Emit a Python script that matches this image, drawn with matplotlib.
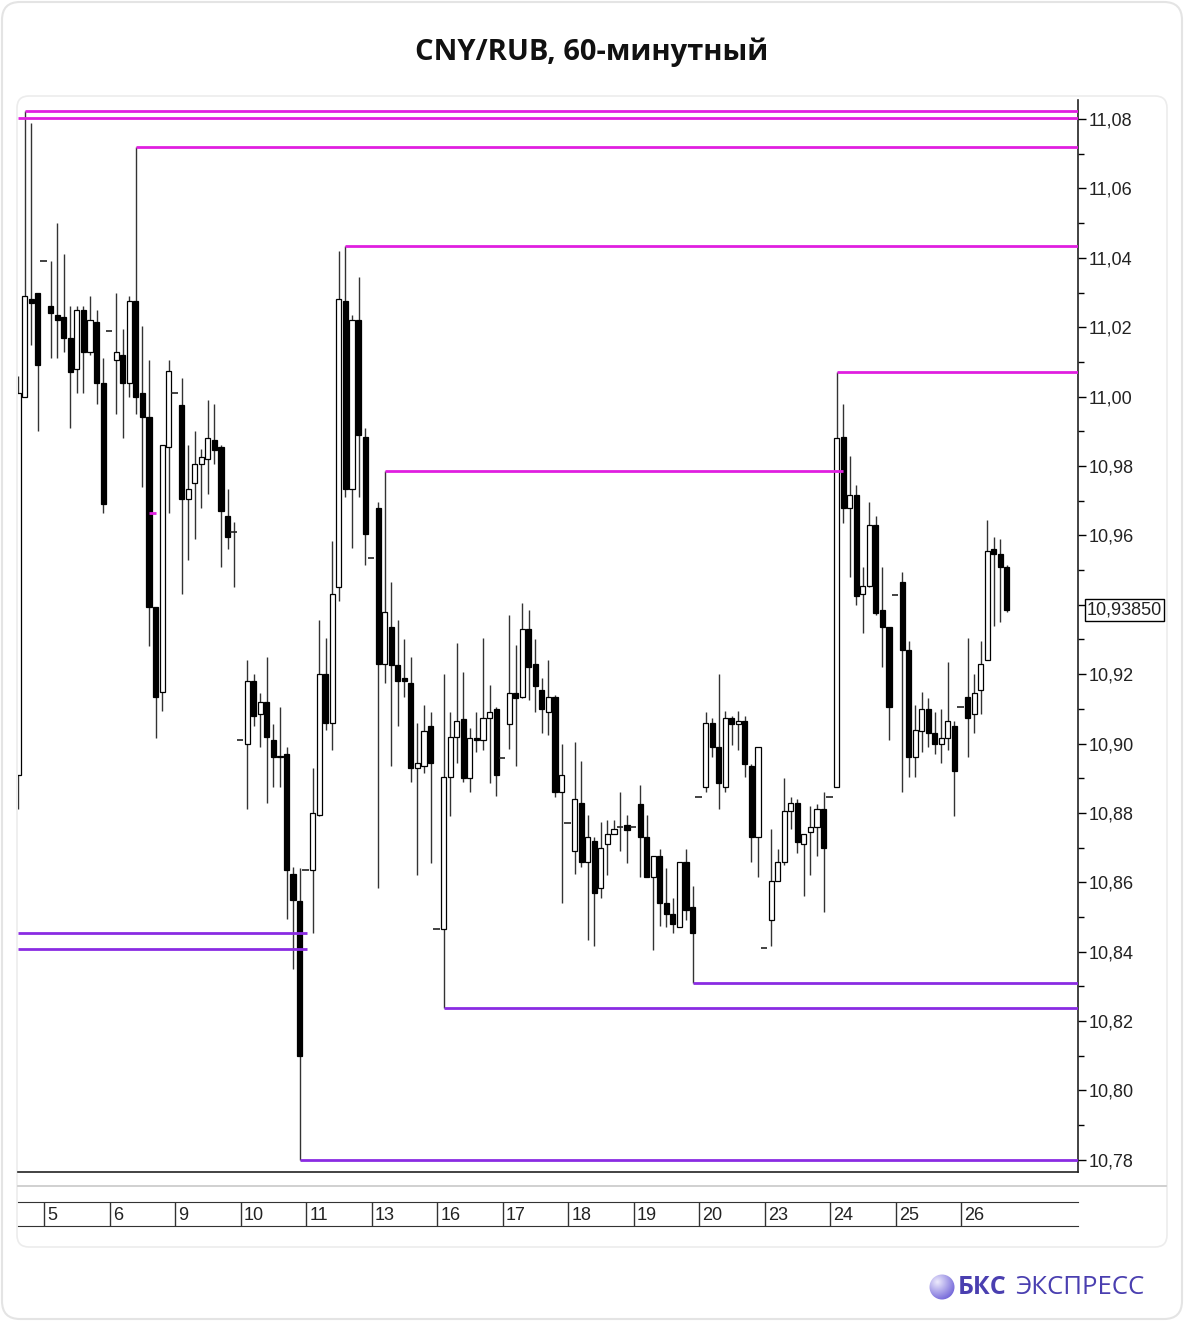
import numpy as np
import matplotlib.pyplot as plt
from matplotlib.patches import Rectangle, FancyBboxPatch, Circle
from matplotlib.ticker import MultipleLocator, FuncFormatter
import matplotlib.transforms as mtransforms

plt.rcParams['font.family'] = ['Liberation Sans', 'DejaVu Sans']

# hourly candles CNY/RUB, end of 4 Nov .. 26 Nov
opens = [
    10.891, 11.000, 11.028, 11.030, 11.039, 11.026, 11.0235, 11.023, 11.017, 11.008,
    11.025, 11.013, 11.0215, 11.004, 11.019, 11.0105, 11.012, 11.004, 11.0275, 11.001,
    10.994, 10.9395, 10.915, 10.9855, 11.001, 10.9975, 10.9705, 10.975, 10.9805, 10.982,
    10.9875, 10.9855, 10.9655, 10.961, 10.901, 10.900, 10.918, 10.9085, 10.912, 10.901,
    10.8965, 10.897, 10.8625, 10.8545, 10.8635, 10.8635, 10.8795, 10.920, 10.906, 10.945,
    11.0275, 10.9735, 11.022, 10.9885, 10.9535, 10.968, 10.923, 10.9335, 10.9225, 10.919,
    10.9175, 10.893, 10.8935, 10.905, 10.8465, 10.8465, 10.8905, 10.902, 10.907, 10.890,
    10.9015, 10.901, 10.9075, 10.910, 10.8958, 10.9055, 10.9145, 10.9135, 10.933, 10.923,
    10.9155, 10.909, 10.9135, 10.886, 10.877, 10.869, 10.883, 10.866, 10.872, 10.8585,
    10.871, 10.874, 10.876, 10.8765, 10.876, 10.8825, 10.873, 10.8615, 10.8675, 10.854,
    10.851, 10.847, 10.866, 10.853, 10.8845, 10.8875, 10.906, 10.899, 10.8875, 10.9075,
    10.9055, 10.9065, 10.8935, 10.873, 10.841, 10.849, 10.8605, 10.866, 10.8805, 10.883,
    10.871, 10.8745, 10.876, 10.881, 10.8845, 10.8875, 10.9885, 10.968, 10.9715, 10.943,
    10.9455, 10.963, 10.9385, 10.9335, 10.9428, 10.9465, 10.927, 10.896, 10.9035, 10.910,
    10.903, 10.900, 10.9015, 10.905, 10.9106, 10.9135, 10.9085, 10.9155, 10.924, 10.956,
    10.9545, 10.951]
highs = [
    11.006, 11.0823, 11.079, 11.030, 11.039, 11.039, 11.050, 11.041, 11.026, 11.026,
    11.026, 11.029, 11.025, 11.011, 11.019, 11.030, 11.0195, 11.029, 11.0719, 11.0205,
    11.0105, 10.9395, 10.986, 11.0105, 11.001, 11.0055, 10.986, 10.990, 10.985, 10.999,
    10.998, 10.986, 10.9735, 10.964, 10.901, 10.924, 10.920, 10.9145, 10.925, 10.9055,
    10.9105, 10.899, 10.8645, 10.864, 10.8635, 10.893, 10.9355, 10.9305, 10.9585, 11.042,
    11.0434, 11.0235, 11.0345, 10.991, 10.9535, 10.9695, 10.9786, 10.9465, 10.9355, 10.930,
    10.925, 10.906, 10.911, 10.909, 10.8465, 10.920, 10.909, 10.929, 10.9205, 10.9045,
    10.909, 10.9305, 10.917, 10.9105, 10.8958, 10.937, 10.9285, 10.9405, 10.9385, 10.930,
    10.919, 10.924, 10.914, 10.900, 10.877, 10.9005, 10.895, 10.8795, 10.873, 10.8775,
    10.878, 10.878, 10.886, 10.8795, 10.876, 10.888, 10.8795, 10.8675, 10.8695, 10.864,
    10.8555, 10.866, 10.8695, 10.859, 10.8845, 10.909, 10.9075, 10.920, 10.9095, 10.908,
    10.9095, 10.908, 10.894, 10.899, 10.841, 10.8755, 10.8695, 10.890, 10.8845, 10.884,
    10.874, 10.882, 10.8825, 10.886, 10.8845, 11.0071, 10.998, 10.983, 10.9745, 10.951,
    10.9695, 10.9655, 10.951, 10.9335, 10.9428, 10.9495, 10.9295, 10.911, 10.915, 10.913,
    10.909, 10.910, 10.9235, 10.9065, 10.9106, 10.9305, 10.920, 10.9295, 10.9645, 10.9595,
    10.959, 10.9515]
lows = [
    10.881, 11.000, 11.015, 10.990, 11.039, 11.011, 11.011, 11.013, 10.991, 11.001,
    11.001, 11.012, 10.998, 10.9665, 11.019, 10.995, 10.988, 11.000, 10.995, 10.974,
    10.928, 10.9015, 10.9095, 10.9665, 11.001, 10.943, 10.953, 10.959, 10.968, 10.972,
    10.9805, 10.951, 10.956, 10.945, 10.901, 10.881, 10.905, 10.899, 10.883, 10.8875,
    10.8875, 10.8495, 10.835, 10.780, 10.8635, 10.8455, 10.879, 10.904, 10.898, 10.941,
    10.971, 10.9565, 10.971, 10.9515, 10.9535, 10.8585, 10.9175, 10.8935, 10.905, 10.9135,
    10.889, 10.862, 10.8915, 10.8655, 10.8465, 10.8238, 10.879, 10.8945, 10.889, 10.886,
    10.8975, 10.898, 10.8885, 10.885, 10.8958, 10.8985, 10.8935, 10.913, 10.9125, 10.909,
    10.903, 10.9025, 10.8845, 10.854, 10.877, 10.8625, 10.8645, 10.8435, 10.8415, 10.8555,
    10.862, 10.874, 10.869, 10.8655, 10.876, 10.8615, 10.8615, 10.8405, 10.8475, 10.847,
    10.8455, 10.847, 10.849, 10.831, 10.8845, 10.886, 10.896, 10.881, 10.886, 10.8995,
    10.898, 10.8905, 10.866, 10.8615, 10.841, 10.8415, 10.8605, 10.865, 10.8755, 10.8685,
    10.856, 10.862, 10.8675, 10.8515, 10.8845, 10.8875, 10.9635, 10.948, 10.940, 10.932,
    10.945, 10.937, 10.922, 10.901, 10.9428, 10.886, 10.8905, 10.8905, 10.8975, 10.899,
    10.897, 10.8945, 10.898, 10.879, 10.9106, 10.896, 10.903, 10.9085, 10.924, 10.934,
    10.935, 10.938]
closes = [
    11.001, 11.029, 11.027, 11.009, 11.039, 11.024, 11.022, 11.017, 11.007, 11.025,
    11.013, 11.022, 11.004, 10.969, 11.019, 11.013, 11.004, 11.0275, 11.000, 10.994,
    10.9395, 10.9135, 10.986, 11.0075, 11.001, 10.9705, 10.9735, 10.9805, 10.9825, 10.988,
    10.9845, 10.967, 10.9595, 10.961, 10.901, 10.918, 10.908, 10.912, 10.902, 10.896,
    10.896, 10.8635, 10.855, 10.810, 10.8635, 10.880, 10.920, 10.906, 10.943, 11.028,
    10.9735, 11.022, 10.989, 10.9605, 10.9535, 10.923, 10.938, 10.9225, 10.918, 10.918,
    10.893, 10.8945, 10.9035, 10.8945, 10.8465, 10.8905, 10.902, 10.9065, 10.890, 10.9015,
    10.901, 10.9075, 10.909, 10.891, 10.8958, 10.9145, 10.913, 10.933, 10.922, 10.9165,
    10.910, 10.9135, 10.886, 10.891, 10.877, 10.884, 10.866, 10.873, 10.857, 10.870,
    10.874, 10.8755, 10.876, 10.875, 10.876, 10.873, 10.8615, 10.8675, 10.854, 10.851,
    10.848, 10.866, 10.852, 10.8455, 10.8845, 10.906, 10.899, 10.8885, 10.9075, 10.9055,
    10.9065, 10.894, 10.873, 10.899, 10.841, 10.8605, 10.866, 10.8805, 10.883, 10.8715,
    10.874, 10.876, 10.881, 10.870, 10.8845, 10.988, 10.968, 10.9715, 10.9425, 10.9455,
    10.963, 10.9375, 10.9335, 10.9105, 10.9428, 10.927, 10.896, 10.904, 10.910, 10.903,
    10.900, 10.9015, 10.9065, 10.892, 10.9106, 10.9075, 10.9145, 10.923, 10.9555, 10.9545,
    10.951, 10.9385]

day_labels = ['5', '6', '9', '10', '11', '13', '16', '17', '18', '19', '20', '23', '24', '25', '26']
day_first = [4, 14, 24, 34, 44, 54, 64, 74, 84, 94, 104, 114, 124, 134, 144]

# levels from local extremes (candle index it starts from)
high_from = [1, 18, 50, 125]
low_from = [103, 65, 43]
old_highs = [11.0803]            # come from before the chart
old_lows = [10.8455, 10.8408]    # end at candle 44
mid_level_from, mid_level_to = 56, 126
short_level = 10.9665

n = len(closes)
assert len(opens) == len(highs) == len(lows) == n

fig = plt.figure(figsize=(11.85, 13.22), dpi=100)

# background cards, title, logo (pixel coords)
bg = fig.add_axes([0, 0, 1, 1])
bg.axis('off')
bg.add_patch(FancyBboxPatch((2, 2), 1180, 1317, boxstyle='round,pad=0,rounding_size=18',
                            fc='white', ec='#e4e4e4', lw=1.5))
bg.add_patch(FancyBboxPatch((17, 96), 1150, 1151, boxstyle='round,pad=0,rounding_size=12',
                            fc='white', ec='#ececec', lw=1.2))
bg.plot([18, 1166], [1186, 1186], color='#c8c8c8', lw=1.2)
bg.text(592, 52, 'CNY/RUB, 60-минутный', ha='center', va='center', fontsize=21,
        fontweight='bold', family=['Open Sans', 'DejaVu Sans'], color='#111111')

yy, xx = np.mgrid[-1:1:80j, -1:1:80j]
d = np.clip(np.hypot(xx + 0.35, yy + 0.4) / 1.5, 0, 1)
c1 = np.array([0.93, 0.92, 0.99])
c2 = np.array([0.45, 0.40, 0.85])
grad = c1 * (1 - d[..., None]) + c2 * d[..., None]
im = bg.imshow(grad, extent=(929, 955, 1300, 1274), aspect='auto', zorder=3)
im.set_clip_path(Circle((942, 1287), 12.5, transform=bg.transData))
bg.text(958, 1288, 'БКС', fontsize=18, fontweight='bold', color='#4a3fb0', va='center',
        family=['Open Sans', 'DejaVu Sans'])
bg.text(1015, 1288, 'ЭКСПРЕСС', fontsize=18.5, color='#4a3fb0', va='center',
        family=['Open Sans', 'DejaVu Sans'])
bg.set_xlim(0, 1185)
bg.set_ylim(1322, 0)

# main chart
ax = fig.add_axes([18 / 1185, 1 - 1172 / 1322, 1060 / 1185, 1072 / 1322])
ax.patch.set_alpha(0)
x_right = 161.86
ax.set_xlim(0, x_right)
ax.set_ylim(10.7765, 11.0855)

w = 0.78
x = np.arange(n)
ax.vlines(x, lows, highs, color='#333333', lw=1.0, zorder=2)
for i in range(n):
    o, c = opens[i], closes[i]
    if o == c:
        ax.hlines(o, i - w / 2 - 0.2, i + w / 2, color='#222222', lw=1.2, zorder=3)
        continue
    fc = 'white' if c > o else 'black'
    ax.add_patch(Rectangle((i - w / 2, min(o, c)), w, abs(c - o), fc=fc, ec='black',
                           lw=0.9, zorder=3))

magenta = '#e01fe0'
violet = '#8a2be2'
for i in high_from:
    ax.hlines(highs[i], i, x_right, color=magenta, lw=2.0, zorder=4)
for v in old_highs:
    ax.hlines(v, 0, x_right, color=magenta, lw=2.0, zorder=4)
ax.hlines(highs[mid_level_from], mid_level_from, mid_level_to, color=magenta, lw=2.0, zorder=4)
ax.hlines(short_level, 20, 21, color=magenta, lw=2.0, zorder=4)
for i in low_from:
    ax.hlines(lows[i], i, x_right, color=violet, lw=2.0, zorder=4)
for v in old_lows:
    ax.hlines(v, 0, 44.2, color=violet, lw=2.0, zorder=4)

for s in ['top', 'left']:
    ax.spines[s].set_visible(False)
for s in ['right', 'bottom']:
    ax.spines[s].set_color('#222222')
    ax.spines[s].set_linewidth(1.2)
ax.set_xticks([])
ax.yaxis.tick_right()
ax.yaxis.set_major_locator(MultipleLocator(0.02))
ax.yaxis.set_minor_locator(MultipleLocator(0.01))


def price_fmt(v, pos):
    # the last-price box sits over this label
    if abs(v - closes[-1]) < 0.005:
        return ''
    return f'{v:.2f}'.replace('.', ',')


ax.yaxis.set_major_formatter(FuncFormatter(price_fmt))
ax.tick_params(axis='y', which='major', length=6, width=1, pad=1.5, labelsize=13,
               labelcolor='#222222')
ax.tick_params(axis='y', which='minor', length=4, width=1)

trans = mtransforms.blended_transform_factory(ax.transAxes, ax.transData)
ax.text(1.0085, closes[-1], f'{closes[-1]:.5f}'.replace('.', ','), transform=trans,
        fontsize=13, color='#222222', va='center', ha='left', zorder=10, clip_on=False,
        bbox=dict(boxstyle='square,pad=0.12', fc='white', ec='black', lw=1))

# date bar
dax = fig.add_axes([18 / 1185, 1 - 1226 / 1322, 1060 / 1185, 24 / 1322])
dax.set_xlim(0, x_right)
dax.set_ylim(0, 1)
dax.set_xticks([])
dax.set_yticks([])
for s in ['left', 'right']:
    dax.spines[s].set_visible(False)
for s in ['top', 'bottom']:
    dax.spines[s].set_color('#333333')
dax.vlines(day_first, 0, 1, color='#333333', lw=1)
for d0, lab in zip(day_first, day_labels):
    dax.text(d0 + 0.5, 0.45, lab, fontsize=13, color='#222222', va='center', ha='left')

fig.savefig('out.png', dpi=100, facecolor='white')
